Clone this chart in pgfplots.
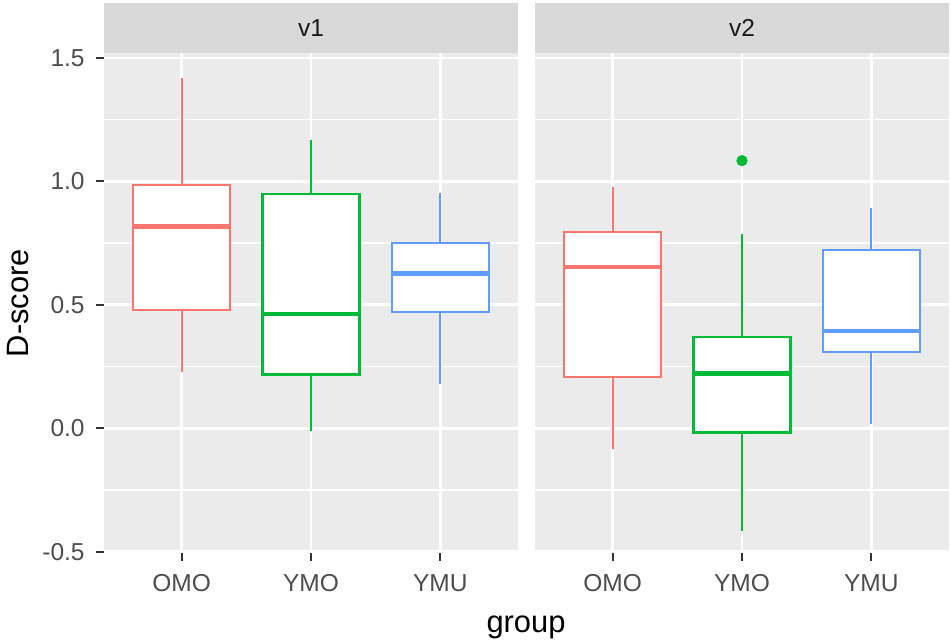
\documentclass[border=0pt]{standalone}
\usepackage{fontspec}
\setmainfont{Liberation Sans}
\usepackage{pgfplots}
\pgfplotsset{compat=1.18}
\usepgfplotslibrary{statistics}
\definecolor{cR}{HTML}{F8766D}
\definecolor{cG}{HTML}{00BA38}
\definecolor{cB}{HTML}{619CFF}
\definecolor{panelc}{HTML}{EBEBEB}
\definecolor{stripf}{HTML}{D9D9D9}
\definecolor{tickc}{HTML}{333333}
\definecolor{labc}{HTML}{4D4D4D}
\definecolor{stripc}{HTML}{1A1A1A}
\pgfplotsset{
  gg/.style={
    scale only axis, width=207bp, height=250bp,
    xmin=0.4, xmax=3.6, ymin=-0.505, ymax=1.52,
    axis background/.style={fill=panelc},
    axis line style={draw=none},
    xtick={1,2,3}, xticklabels={OMO,YMO,YMU},
    ytick={-0.5,0,0.5,1,1.5},
    minor ytick={-0.25,0.25,0.75,1.25},
    grid=both,
    major grid style={white, line width=1.4bp},
    minor grid style={white, line width=0.7bp},
    tick align=outside,
    major tick length=4bp, minor tick length=0pt,
    xtick pos=left, ytick pos=left,
    tick style={tickc, line width=1bp},
    ticklabel style={font=\fontsize{12.3}{14}\selectfont, text=labc, inner sep=0pt},
    xticklabel style={anchor=north, yshift=-6.5bp},
    yticklabel style={anchor=east, xshift=-5.5bp},
    clip=false,
    boxplot/draw direction=y,
    boxplot/every median/.style={line width=2.2bp},
  },
  bx/.style={line width=1.1bp, fill=white, solid},
}
\begin{document}
\begin{tikzpicture}
\useasboundingbox (0,0) rectangle (475.5bp,321.5bp);
% panel v1
\begin{axis}[gg, at={(52bp,45bp)}, anchor=south west,
  yticklabels={-0.5,0.0,0.5,1.0,1.5}]
\fill[stripf] (rel axis cs:0,1) rectangle ([yshift=25bp]rel axis cs:1,1);
\node[font=\fontsize{12.3}{14}\selectfont, text=stripc, inner sep=0pt] at ([yshift=12.5bp]rel axis cs:0.5,1) {v1};
\addplot[cR, bx, boxplot prepared={draw position=1, lower whisker=0.227, lower quartile=0.479, median=0.817, upper quartile=0.985, upper whisker=1.418, box extend=0.75, whisker extend=0}] coordinates {};
\addplot[cG, bx, boxplot prepared={draw position=2, lower whisker=-0.011, lower quartile=0.218, median=0.463, upper quartile=0.949, upper whisker=1.166, box extend=0.75, whisker extend=0}] coordinates {};
\addplot[cB, bx, boxplot prepared={draw position=3, lower whisker=0.180, lower quartile=0.470, median=0.627, upper quartile=0.749, upper whisker=0.951, box extend=0.75, whisker extend=0}] coordinates {};
\end{axis}
% panel v2
\begin{axis}[gg, at={(267.5bp,45bp)}, anchor=south west,
  yticklabels={}, ytick style={draw=none}]
\fill[stripf] (rel axis cs:0,1) rectangle ([yshift=25bp]rel axis cs:1,1);
\node[font=\fontsize{12.3}{14}\selectfont, text=stripc, inner sep=0pt] at ([yshift=12.5bp]rel axis cs:0.5,1) {v2};
\addplot[cR, bx, boxplot prepared={draw position=1, lower whisker=-0.083, lower quartile=0.209, median=0.654, upper quartile=0.794, upper whisker=0.977, box extend=0.75, whisker extend=0}] coordinates {};
\addplot[cG, bx, boxplot prepared={draw position=2, lower whisker=-0.417, lower quartile=-0.017, median=0.222, upper quartile=0.369, upper whisker=0.785, box extend=0.75, whisker extend=0}] coordinates {};
\addplot[cB, bx, boxplot prepared={draw position=3, lower whisker=0.018, lower quartile=0.308, median=0.394, upper quartile=0.722, upper whisker=0.894, box extend=0.75, whisker extend=0}] coordinates {};
\addplot[cG, only marks, mark=*, mark size=2.6bp] coordinates {(2,1.084)};
\end{axis}
\node[font=\fontsize{15.5}{18}\selectfont, anchor=base, inner sep=0pt] at (263bp,5.5bp) {group};
\node[font=\fontsize{15.5}{18}\selectfont, rotate=90, inner sep=0pt] at (9bp,170bp) {D-score};
\end{tikzpicture}
\end{document}
